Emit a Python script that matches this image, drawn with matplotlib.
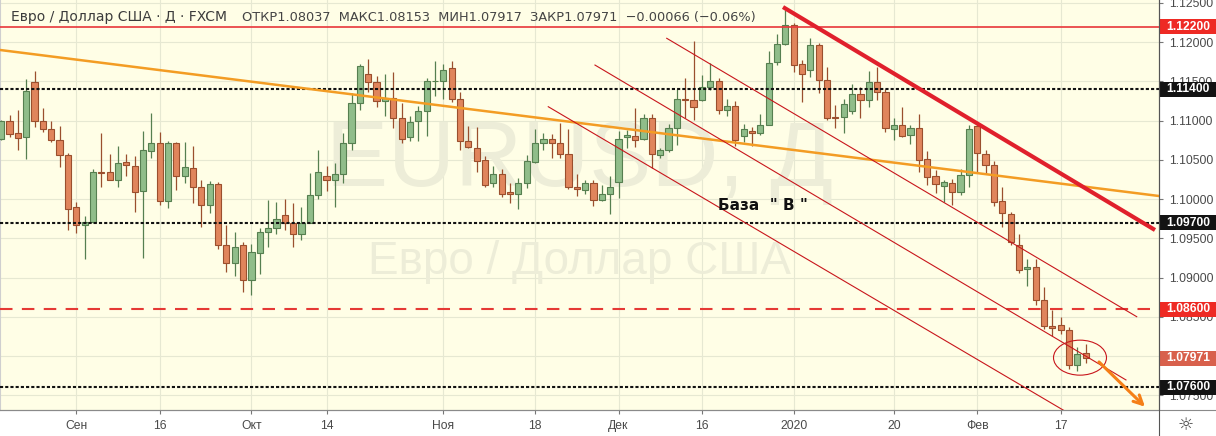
import numpy as np
import matplotlib.pyplot as plt
from matplotlib.patches import Ellipse, Rectangle
from matplotlib.lines import Line2D
from matplotlib.transforms import blended_transform_factory

# daily EUR/USD candles (index 0 = first bar on the left)
opens = [1.1077, 1.1100, 1.1084, 1.1079, 1.1149, 1.1099, 1.1089, 1.1076, 1.1056, 1.0990,
         1.0967, 1.0971, 1.1034, 1.1034, 1.1024, 1.1047, 1.1042, 1.1010, 1.1062, 1.1072,
         1.0998, 1.1071, 1.1029, 1.1040, 1.1015, 1.0992, 1.1019, 1.0941, 1.0918, 1.0941,
         1.0897, 1.0931, 1.0958, 1.0963, 1.0980, 1.0969, 1.0955, 1.0970, 1.1005, 1.1029,
         1.1024, 1.1032, 1.1071, 1.1123, 1.1159, 1.1149, 1.1125, 1.1129, 1.1103, 1.1079,
         1.1099, 1.1112, 1.1150, 1.1150, 1.1167, 1.1127, 1.1074, 1.1065, 1.1050, 1.1021,
         1.1032, 1.1009, 1.1006, 1.1020, 1.1047, 1.1071, 1.1077, 1.1071, 1.1057, 1.1015,
         1.1012, 1.1020, 1.0999, 1.1007, 1.1022, 1.1079, 1.1080, 1.1077, 1.1103, 1.1056,
         1.1063, 1.1091, 1.1128, 1.1126, 1.1126, 1.1143, 1.1150, 1.1113, 1.1119, 1.1080,
         1.1087, 1.1084, 1.1095, 1.1175, 1.1198, 1.1222, 1.1172, 1.1165, 1.1196, 1.1152,
         1.1105, 1.1105, 1.1112, 1.1134, 1.1126, 1.1149, 1.1136, 1.1090, 1.1094, 1.1082,
         1.1091, 1.1051, 1.1030, 1.1017, 1.1021, 1.1009, 1.1031, 1.1093, 1.1058, 1.1043,
         1.0998, 1.0981, 1.0941, 1.0911, 1.0914, 1.0871, 1.0838, 1.0839, 1.0833, 1.0789,
         1.08037]
highs = [1.1101, 1.1107, 1.1114, 1.1153, 1.1163, 1.1116, 1.1099, 1.1093, 1.1059, 1.0996,
         1.0978, 1.1038, 1.1084, 1.1058, 1.1068, 1.1058, 1.1055, 1.1087, 1.1110, 1.1086,
         1.1074, 1.1073, 1.1073, 1.1068, 1.1024, 1.1023, 1.1022, 1.0967, 1.0958, 1.0946,
         1.0943, 1.0963, 1.0999, 1.0997, 1.1000, 1.0995, 1.0990, 1.1033, 1.1063, 1.1042,
         1.1046, 1.1084, 1.1135, 1.1172, 1.1179, 1.1157, 1.1160, 1.1162, 1.1122, 1.1106,
         1.1119, 1.1155, 1.1176, 1.1172, 1.1176, 1.1137, 1.1093, 1.1092, 1.1055, 1.1042,
         1.1038, 1.1021, 1.1027, 1.1056, 1.1089, 1.1084, 1.1083, 1.1097, 1.1089, 1.1032,
         1.1025, 1.1024, 1.1018, 1.1029, 1.1087, 1.1088, 1.1116, 1.1109, 1.1108, 1.1065,
         1.1096, 1.1141, 1.1155, 1.1201, 1.1158, 1.1174, 1.1154, 1.1128, 1.1125, 1.1096,
         1.1092, 1.1108, 1.1189, 1.1211, 1.1241, 1.1224, 1.1177, 1.1205, 1.1199, 1.1168,
         1.1120, 1.1128, 1.1147, 1.1143, 1.1163, 1.1169, 1.1141, 1.1103, 1.1118, 1.1094,
         1.1108, 1.1061, 1.1037, 1.1024, 1.1026, 1.1039, 1.1094, 1.1096, 1.1063, 1.1048,
         1.1015, 1.0984, 1.0956, 1.0924, 1.0924, 1.0888, 1.0859, 1.0850, 1.0837, 1.0811,
         1.08153]
lows = [1.1076, 1.1079, 1.1063, 1.1051, 1.1092, 1.1085, 1.1073, 1.1041, 1.0961, 1.0957,
        1.0924, 1.0970, 1.1015, 1.1024, 1.1015, 1.1029, 1.0984, 1.0925, 1.1053, 1.0992,
        1.0989, 1.1012, 1.1021, 1.0995, 1.0965, 1.0982, 1.0937, 1.0907, 1.0902, 1.0882,
        1.0878, 1.0905, 1.0939, 1.0956, 1.0961, 1.0939, 1.0948, 1.0969, 1.1000, 1.1011,
        1.0990, 1.1021, 1.1063, 1.1114, 1.1137, 1.1118, 1.1106, 1.1091, 1.1072, 1.1074,
        1.1074, 1.1080, 1.1131, 1.1128, 1.1124, 1.1063, 1.1065, 1.1035, 1.1015, 1.1015,
        1.1003, 1.0995, 1.0988, 1.1014, 1.1046, 1.1063, 1.1053, 1.1052, 1.1013, 1.1004,
        1.1007, 1.0991, 1.0998, 1.0981, 1.1001, 1.1065, 1.1066, 1.1075, 1.1040, 1.1053,
        1.1060, 1.1069, 1.1104, 1.1101, 1.1125, 1.1139, 1.1108, 1.1106, 1.1068, 1.1073,
        1.1068, 1.1082, 1.1094, 1.1171, 1.1196, 1.1162, 1.1124, 1.1156, 1.1135, 1.1101,
        1.1091, 1.1084, 1.1108, 1.1103, 1.1118, 1.1126, 1.1086, 1.1076, 1.1079, 1.1070,
        1.1035, 1.1018, 1.1008, 1.0997, 1.0992, 1.1005, 1.1016, 1.1033, 1.1032, 1.0991,
        1.0965, 1.0942, 1.0906, 1.0889, 1.0865, 1.0835, 1.0826, 1.0828, 1.0784, 1.0781,
        1.07917]
closes = [1.1100, 1.1083, 1.1078, 1.1138, 1.1099, 1.1089, 1.1076, 1.1056, 1.0987, 1.0967,
          1.0971, 1.1035, 1.1033, 1.1025, 1.1046, 1.1043, 1.1009, 1.1063, 1.1071, 1.0998,
          1.1071, 1.1029, 1.1041, 1.1016, 1.0992, 1.1019, 1.0941, 1.0918, 1.0939, 1.0897,
          1.0933, 1.0958, 1.0963, 1.0975, 1.0969, 1.0955, 1.0970, 1.1005, 1.1035, 1.1024,
          1.1032, 1.1071, 1.1123, 1.1170, 1.1149, 1.1125, 1.1129, 1.1103, 1.1077, 1.1098,
          1.1112, 1.1151, 1.1151, 1.1165, 1.1127, 1.1074, 1.1066, 1.1048, 1.1018, 1.1032,
          1.1007, 1.1006, 1.1021, 1.1048, 1.1071, 1.1077, 1.1071, 1.1057, 1.1016, 1.1013,
          1.1020, 1.0999, 1.1007, 1.1015, 1.1077, 1.1082, 1.1076, 1.1104, 1.1058, 1.1063,
          1.1091, 1.1128, 1.1126, 1.1117, 1.1143, 1.1150, 1.1113, 1.1119, 1.1075, 1.1089,
          1.1084, 1.1095, 1.1173, 1.1198, 1.1222, 1.1171, 1.1159, 1.1197, 1.1152, 1.1104,
          1.1104, 1.1121, 1.1134, 1.1126, 1.1149, 1.1137, 1.1091, 1.1094, 1.1081, 1.1091,
          1.1050, 1.1028, 1.1019, 1.1022, 1.1009, 1.1031, 1.1090, 1.1059, 1.1043, 1.0997,
          1.0982, 1.0945, 1.0910, 1.0914, 1.0871, 1.0838, 1.0836, 1.0833, 1.0789, 1.0803,
          1.07971]

tick_idx = [9, 19, 30, 39, 53, 64, 74, 84, 95, 107, 117, 127]
tick_labels = ['Сен', '16', 'Окт', '14', 'Ноя', '18', 'Дек', '16', '2020', '20', 'Фев', '17']

# horizontal levels drawn on the chart
red_level = 1.122
dotted_levels = [1.114, 1.097, 1.076]
dashed_level = 1.086
last_price = 1.07971

# drawn trend lines: (bar index, price) pairs
orange_line = ([-0.14, 138.8], [1.11901, 1.10040])
thick_red_line = ([93.72, 138.31], [1.12448, 1.09607])
channel_lines = [([79.78, 136.12], [1.12050, 1.08502]),
                 ([71.18, 134.83], [1.11709, 1.07696]),
                 ([65.58, 129.32], [1.11178, 1.07186])]
arrow_start = (131.36, 1.07950)
arrow_end = (137.35, 1.07330)

o = np.array(opens)
h = np.array(highs)
l = np.array(lows)
c = np.array(closes)
x = np.arange(len(o))

W, H = 1216, 436
fig = plt.figure(figsize=(W / 100, H / 100), dpi=100)
fig.patch.set_facecolor('white')
ax = fig.add_axes([0, 26 / H, 1159 / W, 410 / H])
ax.set_facecolor('#fffee6')
ax.set_xlim(-0.14, 138.79)
ax.set_ylim(1.07313, 1.12538)

# grid + scales
yt = np.arange(1.075, 1.1251, 0.005)
ax.set_yticks(yt)
ax.set_yticklabels([f'{v:.5f}' for v in yt], family='Liberation Sans')
ax.set_xticks(tick_idx)
ax.set_xticklabels(tick_labels, family='Liberation Sans')
ax.set_axisbelow(True)
ax.grid(color='#e6e8d2', lw=0.8)
ax.yaxis.tick_right()
ax.tick_params(axis='y', labelsize=8.7, labelcolor='#4a4a4a', color='#777', length=3, pad=4)
ax.tick_params(axis='x', labelsize=8.7, labelcolor='#4a4a4a', color='#777', length=3, pad=4)
ax.spines['top'].set_visible(False)
ax.spines['left'].set_color('#cfcfcf')
ax.spines['right'].set_color('#555555')
ax.spines['bottom'].set_color('#8a8a8a')

# watermark
ax.text(0.5, 0.605, 'EURUSD, Д', transform=ax.transAxes, ha='center', va='center',
        fontsize=67, color='#ededd8', family='Liberation Sans', zorder=0.6)
ax.text(0.5, 0.36, 'Евро / Доллар США', transform=ax.transAxes, ha='center', va='center',
        fontsize=33, color='#ededd8', family='Liberation Sans', zorder=0.6)

# candles
up = c >= o
fill = np.where(up, '#90bd8a', '#e0855c')
edge = np.where(up, '#567f50', '#9a4f2e')
ax.vlines(x, l, h, colors=edge, lw=0.9, zorder=3)
ax.bar(x, np.maximum(np.abs(c - o), 0.00006), bottom=np.minimum(o, c), width=0.74,
       color=fill, edgecolor=edge, linewidth=0.8, zorder=4)

# levels
ax.axhline(red_level, color='#e8363a', lw=1.2, zorder=5)
for lv in dotted_levels:
    ax.axhline(lv, color='#111111', lw=1.5, dashes=(1.5, 1.0), zorder=5)
ax.axhline(dashed_level, color='#e53935', lw=1.5, dashes=(6, 4.5), zorder=5)

# trend lines
ax.plot(*orange_line, color='#f39c24', lw=1.8, zorder=5)
for xs, ys in channel_lines:
    ax.plot(xs, ys, color='#c8161c', lw=0.8, zorder=5)
ax.plot(*thick_red_line, color='#e0202c', lw=3.0, solid_capstyle='butt', zorder=6)

ax.add_patch(Ellipse((129.32, 1.0798), 6.35, 0.00446, fill=False, ec='#c8161c', lw=0.8, zorder=6))
ax.annotate('', xy=arrow_end, xytext=arrow_start,
            arrowprops=dict(arrowstyle='->', color='#f57f17', lw=2.2, mutation_scale=16), zorder=7)

ax.text(91.3, 1.09913, 'База  " В "', fontsize=11, fontweight='bold', ha='center', va='center',
        color='#111111', zorder=7)

# price labels on the right scale
trans = blended_transform_factory(ax.transAxes, ax.transData)
boxes = [(red_level, '#ee2a24'), (dotted_levels[0], '#131313'), (dotted_levels[1], '#131313'),
         (dashed_level, '#ee2a24'), (last_price, '#d8604c'), (dotted_levels[2], '#131313')]
hh = 15 / 7848
for lv, col in boxes:
    ax.add_patch(Rectangle((1.0, lv - hh / 2), 57 / 1159, hh, transform=trans, clip_on=False,
                           facecolor=col, edgecolor='none', zorder=10))
    ax.text(1.0 + 7 / 1159, lv, f'{lv:.5f}', transform=trans, clip_on=False, ha='left', va='center',
            fontsize=8.7, fontweight='bold', color='white', family='Liberation Sans', zorder=11)

# frame lines of the price / time scales
fig.add_artist(Line2D([0, 1], [26 / H, 26 / H], color='#8a8a8a', lw=0.8))
fig.add_artist(Line2D([1159 / W, 1159 / W], [0, 1], color='#555555', lw=0.8))

# header
fig.text(11 / W, 1 - 17 / H, 'Евро / Доллар США · Д · FXCM', fontsize=10, color='#3c3c3c', va='center')
fig.text(242 / W, 1 - 17 / H, 'ОТКР1.08037  МАКС1.08153  МИН1.07917  ЗАКР1.07971  −0.00066 (−0.06%)',
         fontsize=9.3, color='#444444', va='center')
fig.text(1186 / W, 11 / H, '☼', ha='center', va='center', fontsize=13, color='#444444')

fig.savefig('out.png', dpi=100)
